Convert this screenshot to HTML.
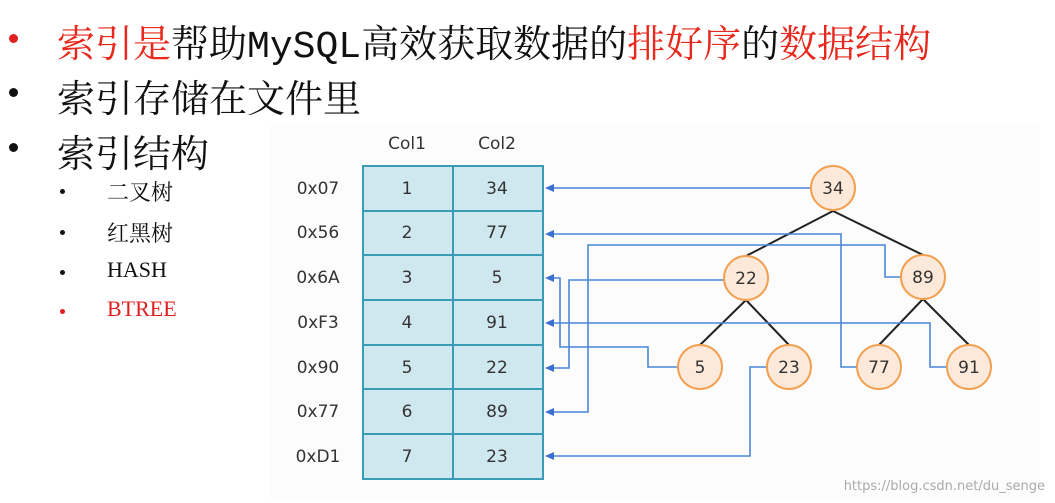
<!DOCTYPE html>
<html><head><meta charset="utf-8"><style>
body{margin:0;width:1055px;height:503px;background:#fff;overflow:hidden;position:relative;font-family:"Liberation Serif","Noto Serif CJK SC",serif}
.l{position:absolute;white-space:nowrap}
.b1{font-size:38px;left:57px;color:#111}
.dot{position:absolute;left:9px;width:9px;height:9px;border-radius:50%;background:#111}
.s{font-size:22px;left:107px;color:#111}
.sd{position:absolute;left:60px;width:5px;height:5px;border-radius:50%;background:#111}
</style></head><body>
<div class="dot" style="top:34px;background:#e02020"></div>
<div class="l b1" style="top:13px"><span style="color:#e8281c">索引是</span>帮助<span style="font-family:'Liberation Mono',monospace">MySQL</span>高效获取数据的<span style="color:#e8281c">排好序</span>的<span style="color:#e8281c">数据结构</span></div>
<div class="dot" style="top:88px"></div>
<div class="l b1" style="top:68px">索引存储在文件里</div>
<div class="dot" style="top:143px"></div>
<div class="l b1" style="top:123px">索引结构</div>
<div class="sd" style="top:189px"></div><div class="l s" style="top:176px">二叉树</div>
<div class="sd" style="top:230px"></div><div class="l s" style="top:217px">红黑树</div>
<div class="sd" style="top:270px"></div><div class="l s" style="top:257px">HASH</div>
<div class="sd" style="top:309px;background:#e02020"></div><div class="l s" style="top:296px;color:#e02020">BTREE</div>
<svg style="position:absolute;left:0;top:0" width="1055" height="503" font-family="DejaVu Sans, sans-serif">
<rect x="270" y="125" width="770" height="375" fill="#fcfcfc"/>
<text x="407" y="149" font-size="17" text-anchor="middle" fill="#333">Col1</text>
<text x="497" y="149" font-size="17" text-anchor="middle" fill="#333">Col2</text>
<g font-size="17" fill="#333" text-anchor="middle">
<text x="318" y="194">0x07</text><text x="318" y="238">0x56</text><text x="318" y="283">0x6A</text><text x="318" y="328">0xF3</text><text x="318" y="373">0x90</text><text x="318" y="417">0x77</text><text x="318" y="462">0xD1</text>
</g>
<g fill="#cfe7ef" stroke="#3a9bb5" stroke-width="2">
<rect x="363" y="166" width="90" height="45"/><rect x="453" y="166" width="90" height="45"/>
<rect x="363" y="211" width="90" height="44"/><rect x="453" y="211" width="90" height="44"/>
<rect x="363" y="255" width="90" height="45"/><rect x="453" y="255" width="90" height="45"/>
<rect x="363" y="300" width="90" height="45"/><rect x="453" y="300" width="90" height="45"/>
<rect x="363" y="345" width="90" height="44"/><rect x="453" y="345" width="90" height="44"/>
<rect x="363" y="389" width="90" height="45"/><rect x="453" y="389" width="90" height="45"/>
<rect x="363" y="434" width="90" height="45"/><rect x="453" y="434" width="90" height="45"/>
</g>
<g font-size="17" fill="#333" text-anchor="middle">
<text x="407" y="194">1</text><text x="497" y="194">34</text>
<text x="407" y="238">2</text><text x="497" y="238">77</text>
<text x="407" y="283">3</text><text x="497" y="283">5</text>
<text x="407" y="328">4</text><text x="497" y="328">91</text>
<text x="407" y="373">5</text><text x="497" y="373">22</text>
<text x="407" y="417">6</text><text x="497" y="417">89</text>
<text x="407" y="462">7</text><text x="497" y="462">23</text>
</g>
<g stroke="#222" stroke-width="2">
<line x1="833" y1="211" x2="746" y2="256"/><line x1="833" y1="211" x2="923" y2="255"/>
<line x1="746" y1="300" x2="700" y2="345"/><line x1="746" y1="300" x2="789" y2="345"/>
<line x1="923" y1="299" x2="879" y2="345"/><line x1="923" y1="299" x2="969" y2="345"/>
</g>
<g stroke="#4a86d8" stroke-width="1.6" fill="none">
<polyline points="811,188 548,188"/>
<polyline points="857,367 841,367 841,234 548,234"/>
<polyline points="901,277 885,277 885,245 588,245 588,412 548,412"/>
<polyline points="724,280 569,280 569,368 548,368"/>
<polyline points="678,367 648,367 648,347 560,347 560,278 548,278"/>
<polyline points="947,367 930,367 930,323 548,323"/>
<polyline points="767,367 750,367 750,456 548,456"/>
</g>
<g fill="#3a6fd0">
<polygon points="545,188 554,184 554,192"/><polygon points="545,234 554,230 554,238"/>
<polygon points="545,278 554,274 554,282"/><polygon points="545,323 554,319 554,327"/>
<polygon points="545,368 554,364 554,372"/><polygon points="545,412 554,408 554,416"/>
<polygon points="545,456 554,452 554,460"/>
</g>
<g fill="#fde9d9" stroke="#f0a050" stroke-width="2">
<circle cx="833" cy="188" r="22"/><circle cx="746" cy="278" r="22"/><circle cx="923" cy="277" r="22"/>
<circle cx="700" cy="367" r="22"/><circle cx="789" cy="367" r="22"/><circle cx="879" cy="367" r="22"/><circle cx="969" cy="367" r="22"/>
</g>
<g font-size="17" fill="#333" text-anchor="middle">
<text x="833" y="194">34</text><text x="746" y="284">22</text><text x="923" y="283">89</text>
<text x="700" y="373">5</text><text x="789" y="373">23</text><text x="879" y="373">77</text><text x="969" y="373">91</text>
</g>
<text x="1045" y="490" font-size="13" fill="#aaa" text-anchor="end">https://blog.csdn.net/du_senge</text>
</svg>
</body></html>
